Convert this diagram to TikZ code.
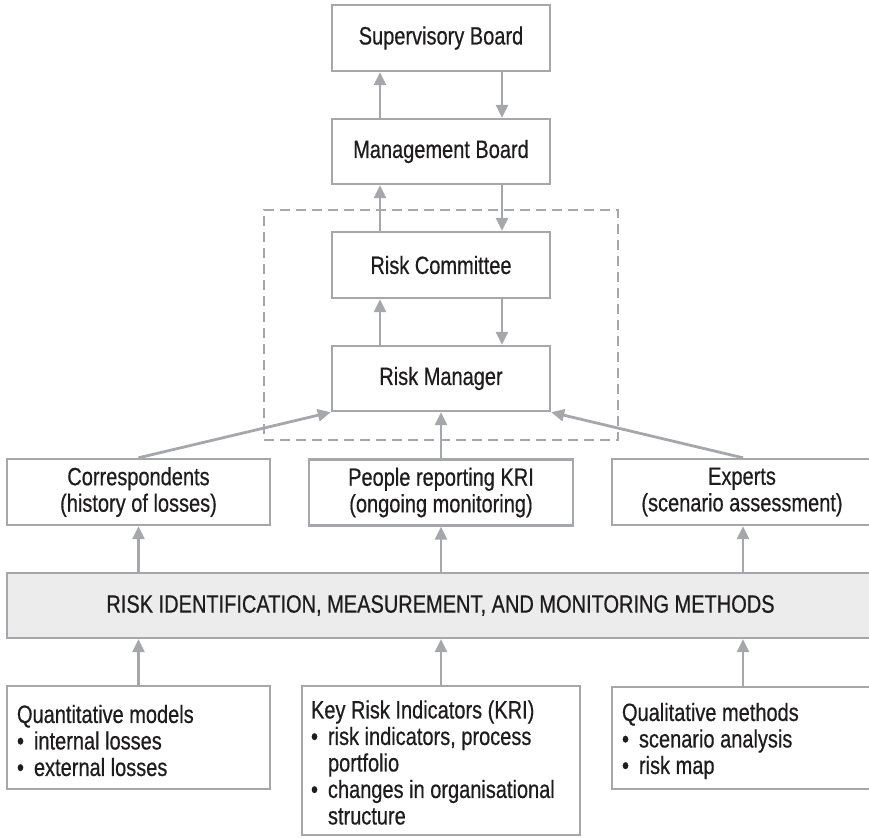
\documentclass[tikz,border=0pt]{standalone}
\usepackage{fontspec}
\setmainfont{Liberation Sans}[FakeStretch=0.8,FakeBold=0.5]
\usetikzlibrary{arrows.meta}
\definecolor{boxgray}{RGB}{165,167,170}
\definecolor{txt}{RGB}{30,28,29}
\definecolor{bandfill}{RGB}{236,236,237}
\newcommand\bulitem{\textbullet\hspace{10pt}}
\newcommand\bulgap{\phantom{\textbullet}\hspace{10pt}}
\begin{document}
\begin{tikzpicture}[x=1pt,y=-1pt,
  font=\fontsize{25}{26.5}\selectfont,
  box/.style={draw=boxgray, line width=2.4pt, fill=white, text=txt, inner sep=0pt, align=center},
  txtnode/.style={text=txt, inner sep=0pt, align=left, anchor=west},
  arr/.style={draw=boxgray, line width=2.8pt, -{Triangle[length=13pt,width=12pt]}},
  grpbox/.style={draw=boxgray, line width=2.4pt, dash pattern=on 10pt off 6pt, inner sep=0pt}]
\useasboundingbox (0,0) rectangle (869,837);
\clip (0,0) rectangle (869,837);
% group
\node[grpbox, minimum width=354pt, minimum height=230pt] (grp) at (441,325) {};
% top chain
\node[box, minimum width=218pt, minimum height=66pt] (sb) at (441,38) {Supervisory Board};
\node[box, minimum width=218pt, minimum height=65pt] (mb) at (441,151.5) {Management Board};
\node[box, minimum width=218pt, minimum height=66pt] (rc) at (441,265) {Risk Committee};
\node[box, minimum width=218pt, minimum height=65pt] (rm) at (441,378.5) {Risk Manager};
% middle row
\node[box, minimum width=263pt, minimum height=66pt] (corr) at (138.5,492) {Correspondents\\(history of losses)};
\node[box, minimum width=264pt, minimum height=66pt] (ppl) at (441,492.5) {People reporting KRI\\(ongoing monitoring)};
\node[box, minimum width=260pt, minimum height=66pt] (exp) at (742,492) {Experts\\(scenario assessment)};
% band
\node[box, fill=bandfill, minimum width=867pt, minimum height=65pt] (band) at (440.5,605.5) {RISK IDENTIFICATION, MEASUREMENT, AND MONITORING METHODS};
% bottom row
\node[box, minimum width=263pt, minimum height=103pt] (quant) at (138.5,737.5) {};
\node[box, minimum width=278pt, minimum height=149pt] (kri) at (441,760.5) {};
\node[box, minimum width=260pt, minimum height=102pt] (qual) at (742,738) {};
\node[txtnode] (quanttxt) at ([xshift=11pt,yshift=-3pt]quant.west) {Quantitative models\\\bulitem internal losses\\\bulitem external losses};
\node[txtnode] (kritxt) at ([xshift=10pt,yshift=-2pt]kri.west) {Key Risk Indicators (KRI)\\\bulitem risk indicators, process\\\bulgap portfolio\\\bulitem changes in organisational\\\bulgap structure};
\node[txtnode] (qualtxt) at ([xshift=11pt,yshift=-3pt]qual.west) {Qualitative methods\\\bulitem scenario analysis\\\bulitem risk map};
% vertical arrows top chain
\draw[arr] ([xshift=-61pt]mb.north) -- ([xshift=-61pt]sb.south);
\draw[arr] ([xshift=61pt]sb.south) -- ([xshift=61pt]mb.north);
\draw[arr] ([xshift=-61pt]rc.north) -- ([xshift=-61pt]mb.south);
\draw[arr] ([xshift=61pt]mb.south) -- ([xshift=61pt]rc.north);
\draw[arr] ([xshift=-61pt]rm.north) -- ([xshift=-61pt]rc.south);
\draw[arr] ([xshift=61pt]rc.south) -- ([xshift=61pt]rm.north);
% to risk manager
\draw[arr] (corr.north) -- (rm.south west);
\draw[arr] (ppl.north) -- (rm.south);
\draw[arr] ([xshift=1pt]exp.north) -- (rm.south east);
% band to middle row
\draw[arr] (band.north -| corr.south) -- (corr.south);
\draw[arr] (band.north -| ppl.south) -- (ppl.south);
\draw[arr] ([xshift=1pt]band.north -| exp.south) -- ([xshift=1pt]exp.south);
% bottom to band
\draw[arr] (quant.north) -- (band.south -| quant.north);
\draw[arr] (kri.north) -- (band.south -| kri.north);
\draw[arr] ([xshift=1pt]qual.north) -- ([xshift=1pt]band.south -| qual.north);
\end{tikzpicture}
\end{document}
